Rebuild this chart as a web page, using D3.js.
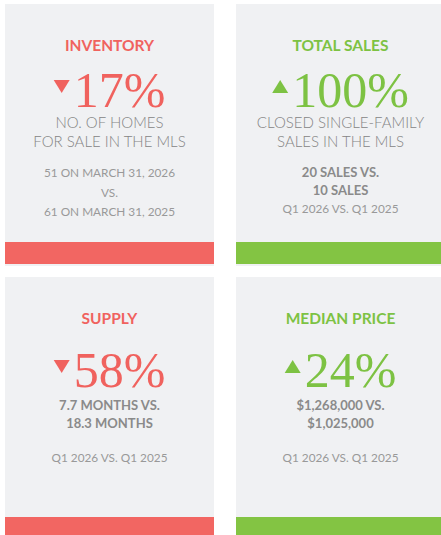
<!DOCTYPE html>
<html>
<head>
<meta charset="utf-8">
<script src="https://cdn.jsdelivr.net/npm/d3@7"></script>
<style>
  html, body { margin: 0; padding: 0; background: #fff; }
  svg { display: block; }
</style>
</head>
<body>
<svg width="441" height="535"></svg>
<script>
// card data
var titles = ["INVENTORY", "TOTAL SALES", "SUPPLY", "MEDIAN PRICE"];
var changes = [17, 100, 58, 24];
var directions = ["down", "up", "down", "up"];
var descriptions = [
  ["NO. OF HOMES", "FOR SALE IN THE MLS"],
  ["CLOSED SINGLE-FAMILY", "SALES IN THE MLS"],
  [],
  []
];
var boldLines = [
  [],
  ["20 SALES VS.", "10 SALES"],
  ["7.7 MONTHS VS.", "18.3 MONTHS"],
  ["$1,268,000 VS.", "$1,025,000"]
];
var detailLines = [
  ["51 ON MARCH 31, 2026", "VS.", "61 ON MARCH 31, 2025"],
  ["Q1 2026 VS. Q1 2025"],
  ["Q1 2026 VS. Q1 2025"],
  ["Q1 2026 VS. Q1 2025"]
];

var red = "#f0625e", green = "#7dc243";
var sans = "Lato, 'Open Sans', sans-serif";
var serif = "'Liberation Serif', 'DejaVu Serif', serif";

var svg = d3.select("svg"),
  width = +svg.attr("width"),
  height = +svg.attr("height");

var cards = titles.map(function (t, i) {
  return {
    i: i, title: t, change: changes[i], dir: directions[i],
    desc: descriptions[i], bold: boldLines[i], detail: detailLines[i],
    col: i % 2, row: Math.floor(i / 2)
  };
});

var cardW = 209, cardH = 262;
var x = d3.scaleOrdinal().domain([0, 1]).range([5, 236]);
var y = d3.scaleOrdinal().domain([0, 1]).range([4, 277]);

var card = svg.selectAll("g.card")
  .data(cards)
  .enter()
  .append("g")
  .attr("class", "card")
  .attr("transform", function (d) {
    return "translate(" + x(d.col) + "," + y(d.row) + ")";
  });

card.append("rect")
  .attr("width", cardW)
  .attr("height", cardH)
  .attr("fill", "#f0f1f3");

card.append("rect")
  .attr("y", function (d) { return d.row === 0 ? 238 : 240; })
  .attr("width", cardW)
  .attr("height", 22)
  .attr("fill", function (d) { return d.dir === "down" ? "#f26662" : "#83c443"; });

var cx = cardW / 2;

card.append("text")
  .attr("x", cx)
  .attr("y", 47)
  .attr("text-anchor", "middle")
  .attr("font-family", sans)
  .attr("font-weight", 700)
  .attr("font-size", 15.5)
  .attr("fill", function (d) { return d.dir === "down" ? red : green; })
  .text(function (d) { return d.title; });

// big percentage with arrow
card.each(function (d) {
  var g = d3.select(this).append("g");
  var color = d.dir === "down" ? red : green;
  var base = d.desc.length ? 103 : 110;
  var txt = g.append("text")
    .attr("y", base)
    .attr("font-family", serif)
    .attr("font-size", 50)
    .attr("fill", color)
    .text(d.change + "%");
  var tw = txt.node().getComputedTextLength();
  var triW = 16, gap = 4;
  var total = triW + gap + tw;
  var x0 = cx - total / 2;
  txt.attr("x", x0 + triW + gap);
  var top = base - 27, bot = base - 14;
  var path = d.dir === "down"
    ? "M" + x0 + "," + top + "L" + (x0 + triW) + "," + top + "L" + (x0 + triW / 2) + "," + bot + "Z"
    : "M" + x0 + "," + bot + "L" + (x0 + triW) + "," + bot + "L" + (x0 + triW / 2) + "," + top + "Z";
  g.append("path").attr("d", path).attr("fill", color);

  var cursor;
  if (d.desc.length) {
    d.desc.forEach(function (s, k) {
      g.append("text")
        .attr("x", cx).attr("y", 124 + k * 19)
        .attr("text-anchor", "middle")
        .attr("font-family", sans)
        .attr("font-weight", 300)
        .attr("font-size", 15)
        .attr("fill", "#858585")
        .text(s);
    });
    cursor = 173;
  } else {
    cursor = 133;
  }
  d.bold.forEach(function (s) {
    g.append("text")
      .attr("x", cx).attr("y", cursor)
      .attr("text-anchor", "middle")
      .attr("font-family", sans)
      .attr("font-weight", 700)
      .attr("font-size", 13)
      .attr("fill", "#8a8a8a")
      .text(s);
    cursor += 18;
  });
  if (d.bold.length) cursor += d.desc.length ? 0 : 16;
  var step = d.bold.length ? 0 : 19.5;
  d.detail.forEach(function (s, k) {
    g.append("text")
      .attr("x", cx).attr("y", cursor + k * step)
      .attr("text-anchor", "middle")
      .attr("font-family", sans)
      .attr("font-weight", 400)
      .attr("font-size", 11.8)
      .attr("fill", "#999999")
      .text(s);
  });
});
</script>
</body>
</html>
